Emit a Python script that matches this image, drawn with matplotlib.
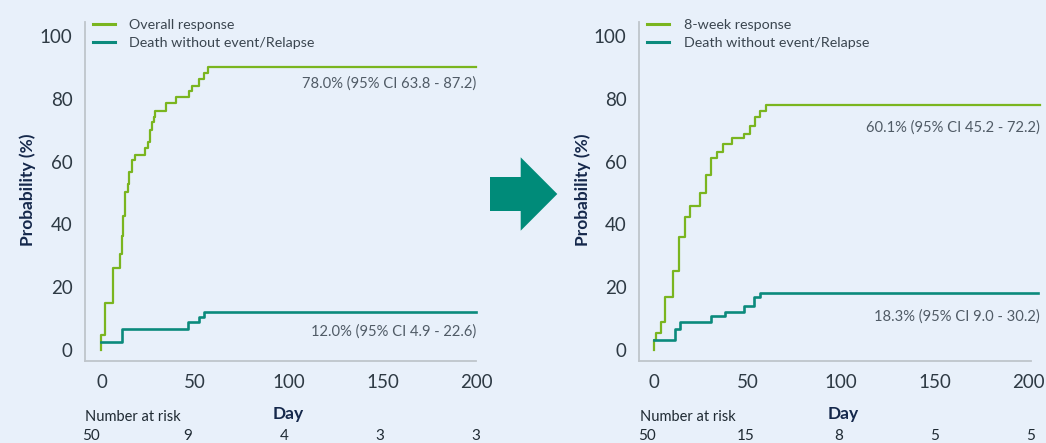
import matplotlib
matplotlib.use("Agg")
import matplotlib.pyplot as plt
from matplotlib.patches import FancyArrow

# ---- data -------------------------------------------------------------
left_resp_days = [0, 0, 2, 6.3, 9.8, 10.7, 11.4, 12.5, 13.9, 14.8, 16.4, 18.0, 23.2,
                  24.7, 25.9, 26.8, 27.9, 28.8, 34.5, 39.9, 46.5, 48.4, 52.0, 54.5,
                  57.0, 200]
left_resp_prob = [0, 4.8, 15.1, 26.0, 30.6, 36.4, 42.7, 50.4, 52.8, 56.6, 60.5, 62.1,
                  64.4, 66.3, 70.1, 72.5, 74.3, 76.1, 78.6, 80.7, 82.5, 84.1, 86.2,
                  88.3, 90.2, 90.2]
left_death_days = [0, 10.7, 46.1, 52.0, 54.9, 200]
left_death_prob = [2.65, 6.6, 8.8, 10.4, 12.0, 12.0]

right_resp_days = [0, 0, 0.9, 3.6, 5.8, 9.9, 13.3, 16.7, 19.4, 24.8, 27.9, 30.5, 33.8,
                   36.8, 41.5, 48.2, 51.2, 54.1, 56.8, 59.8, 206]
right_resp_prob = [0, 3.2, 5.5, 9.0, 17.0, 25.3, 35.9, 42.3, 46.0, 50.1, 55.7, 61.1,
                   63.2, 65.7, 67.7, 68.8, 71.5, 74.1, 76.2, 78.2, 78.2]
right_death_days = [0, 11.3, 13.7, 30.5, 37.7, 48.2, 53.5, 56.6, 205]
right_death_prob = [3.2, 6.7, 8.9, 10.8, 12.1, 14.1, 16.8, 18.3, 18.3]

left_labels = ["Overall response", "Death without event/Relapse"]
right_labels = ["8-week response", "Death without event/Relapse"]
left_notes = ["78.0% (95% CI 63.8 - 87.2)", "12.0% (95% CI 4.9 - 22.6)"]
right_notes = ["60.1% (95% CI 45.2 - 72.2)", "18.3% (95% CI 9.0 - 30.2)"]

x_ticks = [0, 50, 100, 150, 200]
y_ticks = [0, 20, 40, 60, 80, 100]
left_at_risk = [50, 9, 4, 3, 3]
right_at_risk = [50, 15, 8, 5, 5]

# ---- style ------------------------------------------------------------
BG = "#E8F0FA"
GREEN = "#7AB51F"
TEAL = "#0B8A7C"
ARROW = "#008B79"
NAVY = "#15284B"
TICK = "#2E3A44"
NOTE = "#505B66"
SPINE = "#BFC5CB"
FONT = ["Lato", "DejaVu Sans"]

plt.rcParams["font.family"] = FONT

W, H = 1046, 443
fig = plt.figure(figsize=(W / 100, H / 100), dpi=100, facecolor=BG)


def px_axes(left, right, top, bottom):
    return fig.add_axes([left / W, 1 - bottom / H, (right - left) / W, (bottom - top) / H])


def style(ax, xlim, spine_end):
    ax.set_facecolor(BG)
    ax.set_xlim(*xlim)
    ax.set_ylim(-3.5, 104.5)
    ax.set_xticks(x_ticks)
    ax.set_yticks(y_ticks)
    for s in ("top", "right"):
        ax.spines[s].set_visible(False)
    for s in ("left", "bottom"):
        ax.spines[s].set_color(SPINE)
        ax.spines[s].set_linewidth(1.3)
    ax.spines["bottom"].set_bounds(xlim[0], spine_end)
    ax.tick_params(length=0, labelsize=13.5, labelcolor=TICK)
    ax.tick_params(axis="y", pad=9)
    ax.tick_params(axis="x", pad=9)


def draw_panel(ax, resp, death, labels, notes, note_x, note_y):
    ax.step(resp[0], resp[1], where="post", color=GREEN, lw=1.6, label=labels[0],
            clip_on=False, zorder=3)
    ax.step(death[0], death[1], where="post", color=TEAL, lw=1.9, label=labels[1],
            clip_on=False, zorder=3)
    leg = ax.legend(loc="upper left", bbox_to_anchor=(0.02, 1.01), frameon=False,
                    fontsize=10.3, handlelength=1.55, handletextpad=1.0,
                    labelspacing=0.42, borderpad=0, borderaxespad=0)
    for t in leg.get_texts():
        t.set_color("#3B4650")
    for h in leg.get_lines():
        h.set_linewidth(2.2)
    for txt, y in zip(notes, note_y):
        ax.text(note_x, y, txt, ha="right", va="center", fontsize=10.6, color=NOTE)


# left panel
axL = px_axes(85, 477, 22, 361)
style(axL, (-8.8, 200.27), 200)
draw_panel(axL, (left_resp_days, left_resp_prob), (left_death_days, left_death_prob),
           left_labels, left_notes, 199.8, [85.0, 6.0])

# right panel
axR = px_axes(639, 1040.5, 22, 361)
style(axR, (-8.0, 206.5), 201.5)
draw_panel(axR, (right_resp_days, right_resp_prob), (right_death_days, right_death_prob),
           right_labels, right_notes, 206.0, [71.0, 10.8])

# axis titles and number-at-risk rows
for ylab_x, day_x, risk_left, counts, risk_xs in (
        (28, 288, 85, left_at_risk, [91, 188, 284, 380, 476]),
        (583, 843, 640, right_at_risk, [647, 746, 839, 935, 1031])):
    fig.text(ylab_x / W, 1 - 190 / H, "Probability (%)", rotation=90, ha="center",
             va="center", fontsize=12.5, fontweight="bold", color=NAVY)
    fig.text(day_x / W, 1 - 414 / H, "Day", ha="center", va="center",
             fontsize=12.5, fontweight="bold", color=NAVY)
    fig.text(risk_left / W, 1 - 417 / H, "Number at risk", ha="left", va="center",
             fontsize=10.5, color="#1F2A33")
    for n, xp in zip(counts, risk_xs):
        fig.text(xp / W, 1 - 440 / H, str(n), ha="center", va="baseline",
                 fontsize=11, color="#1F2A33")

# arrow between the panels
fig.add_artist(FancyArrow(490 / W, 1 - 194 / H, (557.3 - 490) / W, 0,
                          width=34 / H, head_width=73.4 / H, head_length=36.6 / W,
                          length_includes_head=True, color=ARROW, lw=0,
                          transform=fig.transFigure))

fig.savefig("out.png", dpi=100, facecolor=BG)
